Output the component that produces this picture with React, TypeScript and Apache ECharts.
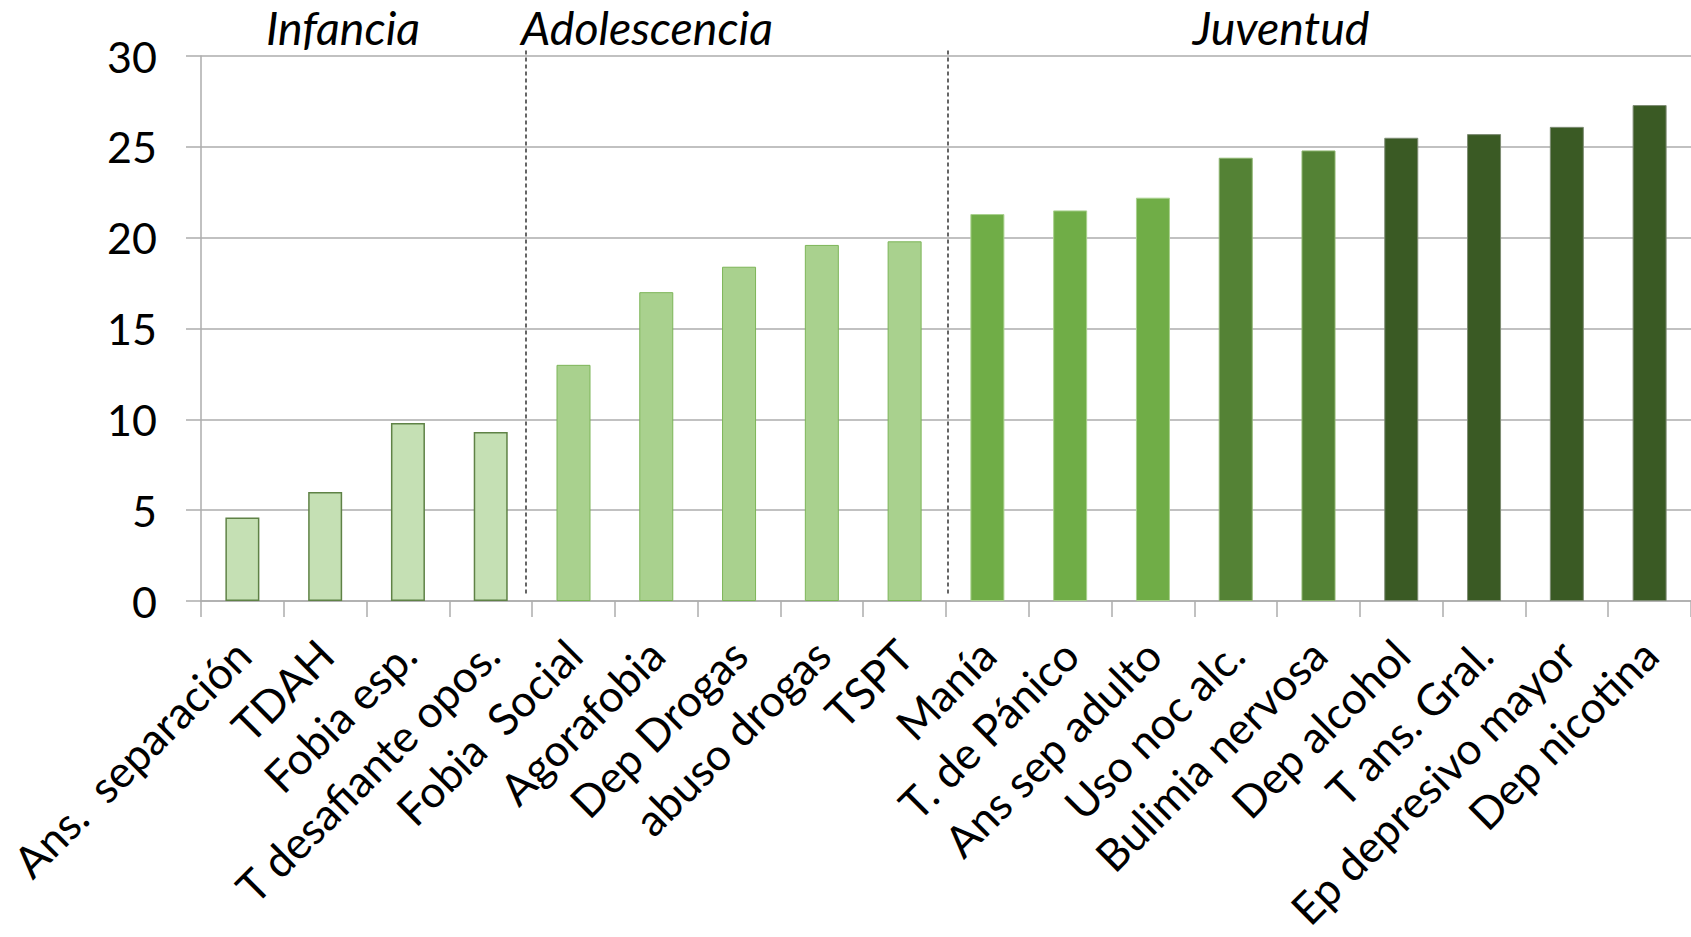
import React, { useEffect, useRef } from "react";
import * as echarts from "echarts";

const categories = [
  "Ans.  separación",
  "TDAH",
  "Fobia esp.",
  "T desafiante opos.",
  "Fobia  Social",
  "Agorafobia",
  "Dep Drogas",
  "abuso drogas",
  "TSPT",
  "Manía",
  "T. de Pánico",
  "Ans sep adulto",
  "Uso noc alc.",
  "Bulimia nervosa",
  "Dep alcohol",
  "T ans. Gral.",
  "Ep depresivo mayor",
  "Dep nicotina",
];
const values = [4.6, 6.0, 9.8, 9.3, 13.0, 17.0, 18.4, 19.6, 19.8, 21.3, 21.5, 22.2, 24.4, 24.8, 25.5, 25.7, 26.1, 27.3];
const shadeIndex = [0, 0, 0, 0, 1, 1, 1, 1, 1, 2, 2, 2, 3, 3, 4, 4, 4, 4];
const shadeFill = ["#C5E0B4", "#A9D18E", "#70AD47", "#548235", "#3A5A24"];
const shadeBorder = ["#5F8246", "#7DB558", "#A9D18E", "#8DB56F", "#7E8C74"];
const shadeBorderWidth = [1.5, 1, 1, 1, 1];
const stageLabels = ["Infancia", "Adolescencia", "Juventud"];
const stageLabelX = [343, 647, 1281];
const stageStarts = [4, 9];
const stageLineShift = [-6, 2];
const yMin = 0;
const yMax = 30;
const yStep = 5;

const FONT = "Lato, 'Open Sans', sans-serif";

export default function App() {
  const ref = useRef<HTMLDivElement>(null);
  useEffect(() => {
    if (!ref.current) return;
    const chart = echarts.init(ref.current, undefined, { renderer: "svg" });
    const gray = "#ADADAD";
    chart.setOption({
      animation: false,
      backgroundColor: "#ffffff",
      grid: { left: 201, right: -7, top: 56, bottom: 336, containLabel: false },
      xAxis: {
        type: "category",
        data: categories,
        boundaryGap: true,
        axisLine: { show: true, lineStyle: { color: gray, width: 1.5 } },
        axisTick: { show: true, length: 16, alignWithLabel: false, interval: 0, lineStyle: { color: gray, width: 1.5 } },
        axisLabel: {
          interval: 0,
          rotate: 45,
          margin: 46,
          fontSize: 44,
          fontFamily: FONT,
          color: "#000",
        },
        splitLine: { show: false },
      },
      yAxis: {
        type: "value",
        min: yMin,
        max: yMax,
        interval: yStep,
        axisLine: { show: true, lineStyle: { color: gray, width: 1.5 } },
        axisTick: { show: true, length: 15, lineStyle: { color: gray, width: 1.5 } },
        axisLabel: { margin: 44, fontSize: 43, fontFamily: FONT, color: "#000" },
        splitLine: { show: true, lineStyle: { color: gray, width: 1.5 } },
      },
      series: [
        {
          type: "bar",
          barWidth: 34,
          data: values.map((v, i) => ({
            value: v,
            itemStyle: {
              color: shadeFill[shadeIndex[i]],
              borderColor: shadeBorder[shadeIndex[i]],
              borderWidth: shadeBorderWidth[shadeIndex[i]],
            },
          })),
        },
      ],
    });

    const graphics: any[] = [];
    const yTop = chart.convertToPixel({ yAxisIndex: 0 }, 30.3) as number;
    const yBot = chart.convertToPixel({ yAxisIndex: 0 }, 0.3) as number;
    stageStarts.forEach((idx, k) => {
      const a = chart.convertToPixel({ xAxisIndex: 0 }, idx - 1) as number;
      const b = chart.convertToPixel({ xAxisIndex: 0 }, idx) as number;
      const x = Math.round((a + b) / 2) + stageLineShift[k];
      graphics.push({
        type: "line",
        shape: { x1: x, y1: yTop, x2: x, y2: yBot },
        style: { stroke: "#000", lineWidth: 1.2, lineDash: [4, 3] },
        z: 10,
      });
    });
    stageLabels.forEach((t, i) => {
      graphics.push({
        type: "text",
        x: stageLabelX[i],
        y: 27,
        style: {
          text: t,
          fontSize: 46.5,
          fontStyle: "italic",
          fontFamily: FONT,
          fill: "#000",
          align: "center",
          verticalAlign: "middle",
        },
      });
    });
    chart.setOption({ graphic: graphics });

    return () => chart.dispose();
  }, []);
  return (
    <div
      ref={ref}
      style={{ position: "fixed", left: 0, top: 0, width: 1691, height: 937, background: "#fff" }}
    />
  );
}
